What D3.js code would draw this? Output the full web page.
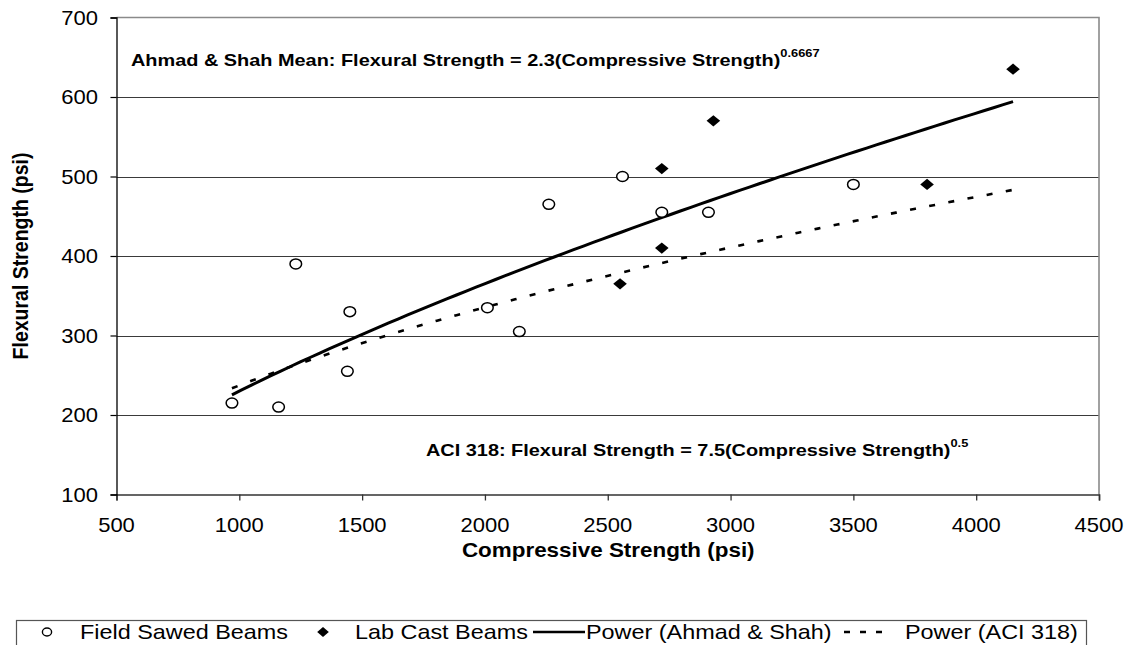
<!DOCTYPE html>
<html><head><meta charset="utf-8">
<script src="https://cdn.jsdelivr.net/npm/d3@7"></script>
<style>
body{margin:0;background:#fff}
svg{display:block;font-family:"Liberation Sans",Arial,sans-serif}
</style></head><body>
<svg id="chart" width="1131" height="645"></svg>
<script>
// Field sawed beams (open circles)
const fieldX = [970, 1160, 1230, 1440, 1450, 2010, 2140, 2260, 2560, 2720, 2910, 3500];
const fieldY = [215, 210, 390, 255, 330, 335, 305, 465, 500, 455, 455, 490];
// Lab cast beams (filled diamonds)
const labX = [2550, 2720, 2720, 2930, 3800, 4150];
const labY = [365, 410, 510, 570, 490, 635];
// Power relations: flexural = coef * compressive ^ exponent
const ahmadShahFit = [2.3, 0.6667];
const aci318Fit = [7.5, 0.5];
const xTickValues = [500, 1000, 1500, 2000, 2500, 3000, 3500, 4000, 4500];
const yTickValues = [100, 200, 300, 400, 500, 600, 700];
const legendLabels = ["Field Sawed Beams", "Lab Cast Beams", "Power (Ahmad & Shah)", "Power (ACI 318)"];

const svg = d3.select("#chart");
const plotL = 116.5, plotR = 1099, plotT = 17.5, plotB = 494.5;
const x = d3.scaleLinear().domain([500, 4500]).range([plotL, plotR]);
const y = d3.scaleLinear().domain([100, 700]).range([plotB, plotT]);

function label(g, px, py, txt, size, weight, anchor, sx) {
  return g.append("text")
    .attr("transform", `translate(${px},${py}) scale(${sx},1)`)
    .attr("font-size", size).attr("font-weight", weight || "normal")
    .attr("text-anchor", anchor || "start").attr("fill", "#000").text(txt);
}

// gridlines
svg.append("g").selectAll("line").data(yTickValues.filter(v => v > 100 && v < 700)).join("line")
  .attr("x1", plotL).attr("x2", plotR).attr("y1", d => Math.round(y(d)) + 0.5).attr("y2", d => Math.round(y(d)) + 0.5)
  .attr("stroke", "#3a3a3a").attr("stroke-width", 1);

// plot frame top/right
svg.append("path").attr("d", `M${plotL},${plotT}H${plotR}V${plotB}`)
  .attr("fill", "none").attr("stroke", "#8a8a8a").attr("stroke-width", 1.6);

// axes
const xAxis = svg.append("g").attr("transform", `translate(0,${plotB})`)
  .call(d3.axisBottom(x).tickValues(xTickValues).tickSize(6).tickFormat(""));
xAxis.select(".domain").attr("stroke", "#333").attr("stroke-width", 1.6);
xAxis.selectAll(".tick line").attr("stroke", "#333").attr("stroke-width", 1.3);
const yAxis = svg.append("g").attr("transform", `translate(${plotL},0)`)
  .call(d3.axisLeft(y).tickValues(yTickValues).tickSize(6).tickFormat(""));
yAxis.select(".domain").attr("stroke", "#000").attr("stroke-width", 1.3);
yAxis.selectAll(".tick line").attr("stroke", "#000").attr("stroke-width", 1.2);

const tickText = svg.append("g");
xTickValues.forEach(v => label(tickText, x(v), 532, String(v), 20, "normal", "middle", 1.1));
yTickValues.forEach(v => label(tickText, 98, y(v) + 7, String(v), 20, "normal", "end", 1.1));

// axis titles
label(svg, (plotL + plotR) / 2 + 0.5, 557, "Compressive Strength (psi)", 19.5, "bold", "middle", 1.15);
svg.append("text")
  .attr("transform", `translate(28,${(plotT + plotB) / 2}) rotate(-90) scale(1,1.15)`)
  .attr("font-size", 19.5).attr("font-weight", "bold").attr("text-anchor", "middle")
  .text("Flexural Strength (psi)");

// equation annotations
function equation(px, py, main, sup) {
  const t = svg.append("text")
    .attr("transform", `translate(${px},${py}) scale(1.17,1)`)
    .attr("font-size", 17).attr("font-weight", "bold");
  t.append("tspan").text(main);
  t.append("tspan").attr("font-size", 11).attr("dy", -9).text(sup);
}
equation(131, 66, "Ahmad & Shah Mean: Flexural Strength = " + ahmadShahFit[0] + "(Compressive Strength)", String(ahmadShahFit[1]));
equation(426, 456, "ACI 318: Flexural Strength = " + aci318Fit[0] + "(Compressive Strength)", String(aci318Fit[1]));

// power curves over the range of the measured data
const allX = fieldX.concat(labX);
const xMin = d3.min(allX), xMax = d3.max(allX);
const samples = d3.range(0, 81).map(i => xMin + (xMax - xMin) * i / 80);
const line = d3.line().x(d => x(d[0])).y(d => y(d[1]));
const curve = fit => samples.map(v => [v, fit[0] * Math.pow(v, fit[1])]);

svg.append("path").attr("d", line(curve(aci318Fit)))
  .attr("fill", "none").attr("stroke", "#000").attr("stroke-width", 2.6)
  .attr("stroke-dasharray", "6,13.5");
svg.append("path").attr("d", line(curve(ahmadShahFit)))
  .attr("fill", "none").attr("stroke", "#000").attr("stroke-width", 3);

// markers
const diamond = (cx, cy, w, h) => `M${cx},${cy - h}L${cx + w},${cy}L${cx},${cy + h}L${cx - w},${cy}Z`;
svg.append("g").selectAll("ellipse").data(d3.zip(fieldX, fieldY)).join("ellipse")
  .attr("cx", d => x(d[0])).attr("cy", d => y(d[1])).attr("rx", 5.8).attr("ry", 5)
  .attr("fill", "#fff").attr("stroke", "#000").attr("stroke-width", 1.5);
svg.append("g").selectAll("path").data(d3.zip(labX, labY)).join("path")
  .attr("d", d => diamond(x(d[0]), y(d[1]), 6.8, 5.6)).attr("fill", "#000");

// legend
const lg = svg.append("g");
lg.append("rect").attr("x", 16.5).attr("y", 620.5).attr("width", 1070).attr("height", 40)
  .attr("fill", "#fff").attr("stroke", "#555").attr("stroke-width", 1.2);
const ly = 632, lb = 639;
lg.append("ellipse").attr("cx", 47).attr("cy", ly).attr("rx", 4.6).attr("ry", 4)
  .attr("fill", "#fff").attr("stroke", "#000").attr("stroke-width", 1.4);
label(lg, 80, lb, legendLabels[0], 20, "normal", "start", 1.17);
lg.append("path").attr("d", diamond(323, ly, 5.8, 5)).attr("fill", "#000");
label(lg, 355, lb, legendLabels[1], 20, "normal", "start", 1.17);
lg.append("line").attr("x1", 533).attr("x2", 585).attr("y1", ly).attr("y2", ly)
  .attr("stroke", "#000").attr("stroke-width", 2.6);
label(lg, 586, lb, legendLabels[2], 20, "normal", "start", 1.17);
lg.append("line").attr("x1", 844).attr("x2", 889).attr("y1", ly).attr("y2", ly)
  .attr("stroke", "#000").attr("stroke-width", 2.6).attr("stroke-dasharray", "6,10");
label(lg, 905, lb, legendLabels[3], 20, "normal", "start", 1.17);
</script>
</body></html>
